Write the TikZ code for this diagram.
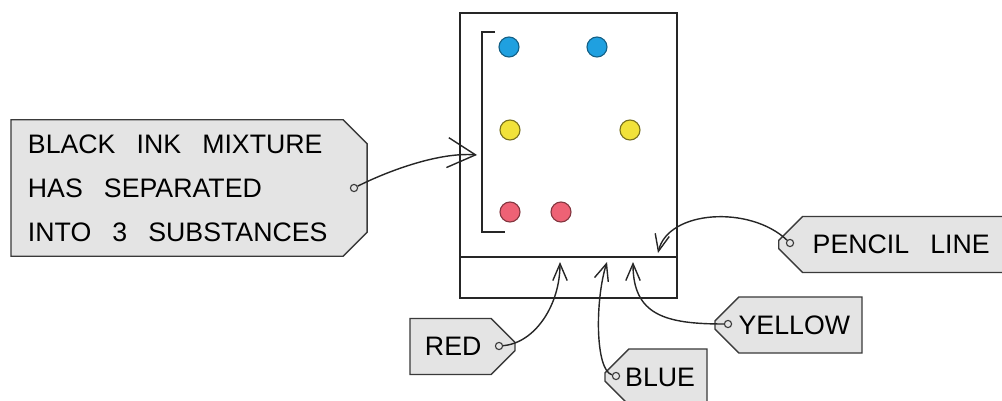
\documentclass[tikz,border=0pt]{standalone}
\usepackage{fontspec}
\setmainfont{Liberation Sans}
\usetikzlibrary{arrows.meta,shapes.misc}
\definecolor{tagfill}{HTML}{E4E4E4}
\definecolor{tagline}{HTML}{3A3A3A}
\definecolor{inkblue}{HTML}{1FA0E0}
\definecolor{inkyellow}{HTML}{F2E23A}
\definecolor{inkred}{HTML}{EE6275}
\newcommand{\widespaces}{\spaceskip=15pt plus 2pt minus 1pt\relax}
\newcommand{\tagfont}{\fontsize{19}{31.3}\selectfont\widespaces}
\tikzset{
  tagbase/.style={chamfered rectangle,chamfered rectangle xsep=0.3cm,chamfered rectangle ysep=0.3cm,
    draw=tagline,fill=tagfill,line width=1pt,minimum height=1.4cm,inner ysep=2pt,font=\tagfont},
  tagR/.style={tagbase,chamfered rectangle corners={north east,south east},align=left},
  tagL/.style={tagbase,chamfered rectangle corners={north west,south west},align=right},
  hole/.style={circle,draw=tagline,fill=tagfill,line width=0.8pt,minimum size=0.18cm,inner sep=0pt},
  spot/.style={circle,line width=0.8pt,minimum size=0.5cm,inner sep=0pt},
  paperline/.style={line width=1.3pt,draw=black!85},
  arr/.style={-{Straight Barb[length=0.42cm,width=0.36cm]},line width=1pt,draw=black!85},
  bigarr/.style={-{Straight Barb[length=0.7cm,width=0.75cm]},line width=1pt,draw=black!85}
}
\begin{document}
\begin{tikzpicture}[x=0.025cm,y=-0.025cm]
  \useasboundingbox (0,0) rectangle (1002,401);
  % chromatography paper
  \node[draw=black!85,line width=1.3pt,minimum width=5.425cm,minimum height=7.125cm,inner sep=0pt] (paper) at (568.5,155.5) {};
  \draw[paperline] (460,257) -- (677,257);
  \draw[paperline] (495,32) -- (482,32) -- (482,232) -- (505,232);

  % spots
  \node[spot,fill=inkblue,draw=inkblue!60!black] (b1) at (509,47) {};
  \node[spot,fill=inkblue,draw=inkblue!60!black] (b2) at (597,47) {};
  \node[spot,fill=inkyellow,draw=inkyellow!50!black] (y1) at (510,130) {};
  \node[spot,fill=inkyellow,draw=inkyellow!50!black] (y2) at (630,130) {};
  \node[spot,fill=inkred,draw=inkred!55!black] (r1) at (510,212) {};
  \node[spot,fill=inkred,draw=inkred!55!black] (r2) at (561,212) {};

  % tags
  \node[tagR,minimum height=3.25cm,text width=8.05cm,inner xsep=0.125cm] (mix) at (189,188)
    {\widespaces BLACK INK MIXTURE\\HAS SEPARATED\\INTO 3 SUBSTANCES};
  \node[tagR,text width=1.875cm,inner xsep=0.075cm] (red) at (462.5,346.5) {RED};
  \node[tagL,text width=1.95cm,inner xsep=0pt] (blue) at (656,377) {BLUE};
  \node[tagL,text width=3.075cm,inner xsep=0pt] (yellow) at (788.5,325) {YELLOW};
  \node[tagL,anchor=west,inner xsep=0.55cm,align=left] (pencil) at (778,244.5) {PENCIL LINE};

  \node[hole] (mixhole) at (354,188) {};
  \node[hole] (redhole) at (499,346) {};
  \node[hole] (bluehole) at (616,376) {};
  \node[hole] (yellowhole) at (728,324) {};
  \node[hole] (pencilhole) at (790,243) {};

  % arrow ends
  \coordinate (mixtip) at (477,155);
  \coordinate (redtip) at (560,262);
  \coordinate (bluetip) at (607,262);
  \coordinate (yellowtip) at (633,262);
  \coordinate (penciltip) at (658,253);

  \draw[bigarr] (mixhole) .. controls (390,170) and (440,152) .. (mixtip);
  \draw[arr] (redhole) .. controls (535,343) and (560,305) .. (redtip);
  \draw[arr] (bluehole) .. controls (595,370) and (595,300) .. (bluetip);
  \draw[arr] (yellowhole) .. controls (665,324) and (633,315) .. (yellowtip);
  \draw[arr] (pencilhole) .. controls (750,205) and (668,210) .. (penciltip);
\end{tikzpicture}
\end{document}
